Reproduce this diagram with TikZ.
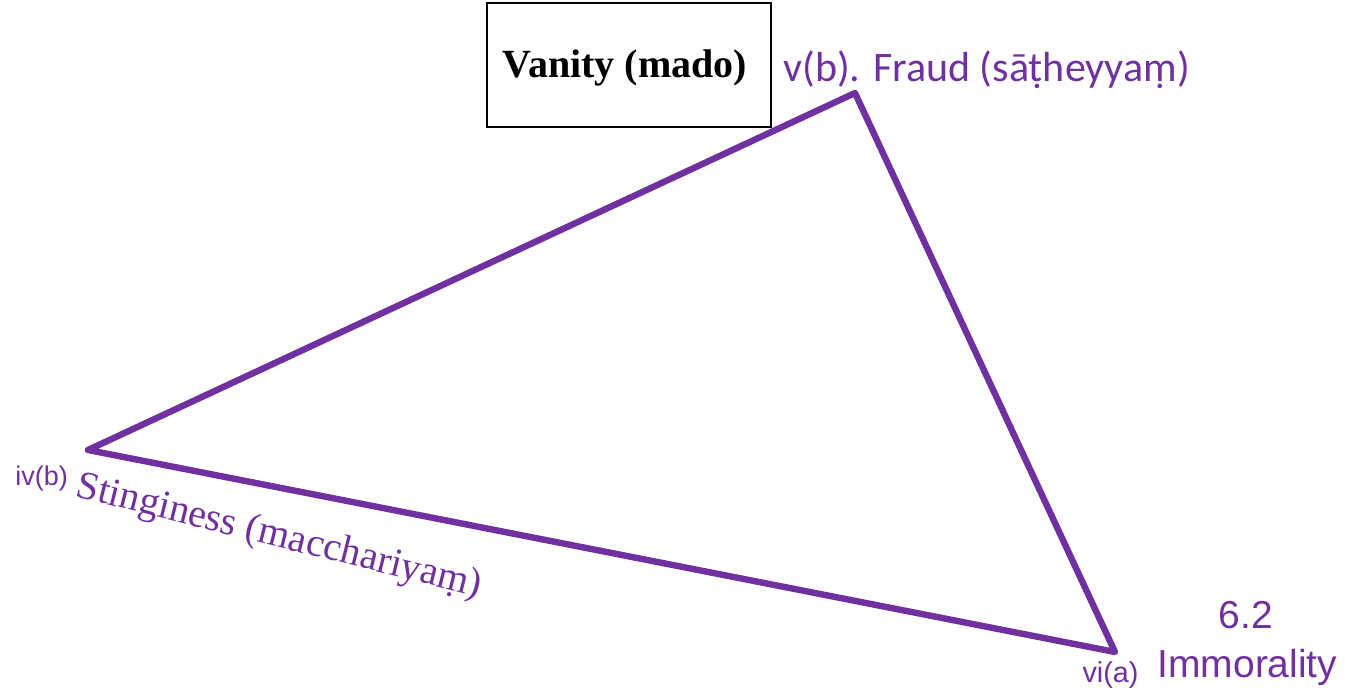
\documentclass[tikz,border=0pt]{standalone}
\usepackage{fontspec}
\setmainfont{Liberation Serif}
\newfontfamily\carlito{Carlito}
\newfontfamily\arialfont{Liberation Sans}
\usetikzlibrary{positioning}
\definecolor{ink}{RGB}{0,0,0}
\definecolor{vice}{RGB}{112,48,160}
\tikzset{
  every picture/.style={line width=0.5pt},
  edge/.style={draw=vice, line width=3.2pt, line join=round, line cap=round},
  frame/.style={draw=ink, line width=0.9pt, inner sep=0pt, minimum width=142pt, minimum height=62pt},
  tag/.style={text=vice, inner sep=0pt, anchor=base west},
}
\begin{document}
\begin{tikzpicture}[x=0.5pt, y=-0.5pt]
  \useasboundingbox (0,0) rectangle (1345,690);
  % corners of the triangle
  \coordinate (fraud) at (855,93);
  \coordinate (sting) at (88,450);
  \coordinate (immo) at (1115,652);
  \draw[edge] (fraud) -- (sting) -- (immo) -- cycle;
  % the box
  \node[frame] (vanity) at (629,65) {};
  \node[anchor=base, inner sep=0pt, font=\bfseries\fontsize{20}{24}\selectfont] (vanitytxt) at (625,78) {Vanity (mado)};
  % labels
  \node[tag, font=\carlito\fontsize{21}{25}\selectfont] (fraudlbl) at (783,82) {v(b). Fraud (sāṭheyyaṃ)};
  \node[tag, font=\arialfont\fontsize{13.5}{16}\selectfont] (stingnum) at (15,485) {iv(b)};
  \node[tag, font=\fontsize{20}{24}\selectfont, rotate=-14] (stinglbl) at (74,496) {Stinginess (macchariyaṃ)};
  \node[tag, font=\arialfont\fontsize{14.4}{17}\selectfont] (immonum) at (1082,682) {vi(a)};
  \node[tag, font=\arialfont\fontsize{19.5}{23}\selectfont] (immolbl) at (1157,677) {Immorality};
  \node[text=vice, inner sep=0pt, anchor=base, font=\arialfont\fontsize{19.5}{23}\selectfont] (immosec) at (1246,628) {6.2};
\end{tikzpicture}
\end{document}
